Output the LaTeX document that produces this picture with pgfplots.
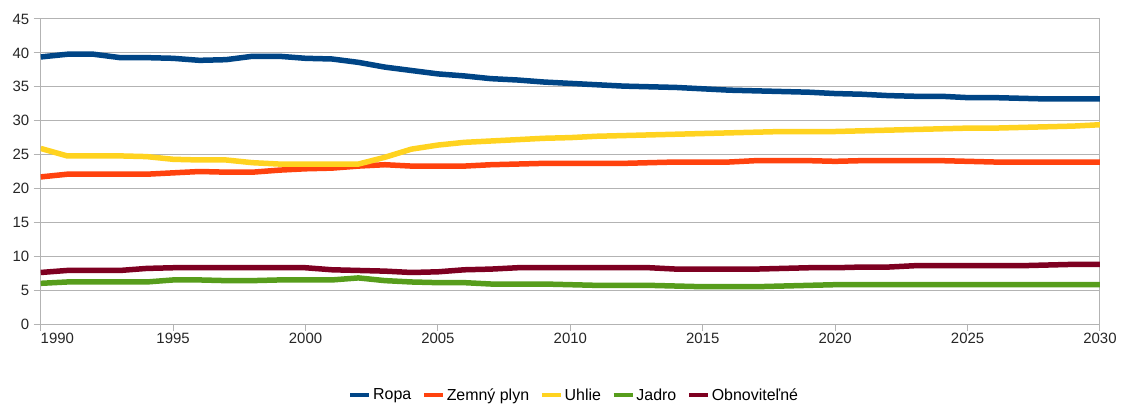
\documentclass[border=0pt]{standalone}
\usepackage{fontspec}
\setmainfont{Liberation Sans}
\usepackage{pgfplots}
\usepackage{pgfplotstable}
\pgfplotsset{compat=1.18}
\definecolor{cRopa}{HTML}{004586}
\definecolor{cPlyn}{HTML}{FF420E}
\definecolor{cUhlie}{HTML}{FFD320}
\definecolor{cJadro}{HTML}{579D1C}
\definecolor{cObn}{HTML}{7E0021}
\definecolor{gridgray}{HTML}{B3B3B3}
\pgfplotstableread{
year ropa plyn uhlie jadro obn
1990 39.4 21.7 25.9 6.0 7.6
1991 39.8 22.1 24.8 6.2 7.9
1992 39.8 22.1 24.8 6.2 7.9
1993 39.3 22.1 24.8 6.2 7.9
1994 39.3 22.1 24.7 6.2 8.2
1995 39.2 22.3 24.3 6.5 8.3
1996 38.9 22.5 24.2 6.5 8.3
1997 39.0 22.4 24.2 6.4 8.3
1998 39.5 22.4 23.8 6.4 8.3
1999 39.5 22.7 23.6 6.5 8.3
2000 39.2 22.9 23.6 6.5 8.3
2001 39.1 23.0 23.6 6.5 8.0
2002 38.6 23.3 23.6 6.8 7.9
2003 37.9 23.5 24.6 6.4 7.8
2004 37.4 23.3 25.8 6.2 7.6
2005 36.9 23.3 26.4 6.1 7.7
2006 36.6 23.3 26.8 6.1 8.0
2007 36.2 23.5 27.0 5.9 8.1
2008 36.0 23.6 27.2 5.9 8.3
2009 35.7 23.7 27.4 5.9 8.3
2010 35.5 23.7 27.5 5.8 8.3
2011 35.3 23.7 27.7 5.7 8.3
2012 35.1 23.7 27.8 5.7 8.3
2013 35.0 23.8 27.9 5.7 8.3
2014 34.9 23.9 28.0 5.6 8.1
2015 34.7 23.9 28.1 5.5 8.1
2016 34.5 23.9 28.2 5.5 8.1
2017 34.4 24.1 28.3 5.5 8.1
2018 34.3 24.1 28.4 5.6 8.2
2019 34.2 24.1 28.4 5.7 8.3
2020 34.0 24.0 28.4 5.8 8.3
2021 33.9 24.1 28.5 5.8 8.4
2022 33.7 24.1 28.6 5.8 8.4
2023 33.6 24.1 28.7 5.8 8.6
2024 33.6 24.1 28.8 5.8 8.6
2025 33.4 24.0 28.9 5.8 8.6
2026 33.4 23.9 28.9 5.8 8.6
2027 33.3 23.9 29.0 5.8 8.6
2028 33.2 23.9 29.1 5.8 8.7
2029 33.2 23.9 29.2 5.8 8.8
2030 33.2 23.9 29.4 5.8 8.8
}\datatable
\begin{document}
\begin{tikzpicture}
\begin{axis}[
  scale only axis,
  width=1059.3bp, height=305bp,
  xmin=1990, xmax=2030, ymin=0, ymax=45,
  xtick={1990,1995,2000,2005,2010,2015,2020,2025,2030},
  xticklabels={\makebox[0pt][l]{1990},1995,2000,2005,2010,2015,2020,2025,2030},
  ytick={0,5,...,45},
  ymajorgrids,
  grid style={gridgray, line width=1bp},
  axis line style={gridgray, line width=1bp},
  tick style={gridgray, line width=1bp},
  major tick length=7bp,
  tick align=outside,
  xtick pos=bottom, ytick pos=left,
  /pgf/number format/assume math mode=true,
  /pgf/number format/1000 sep={},
  ticklabel style={font=\fontsize{15}{17}\selectfont, text=black!85},
  yticklabel style={xshift=-1bp},
  xticklabel style={yshift=1.5bp},
  legend style={at={(0.5033,-0.233)}, anchor=center, draw=none, fill=none,
    font=\fontsize{16}{18}\selectfont, legend columns=5,
    nodes={inner sep=1.5bp},
    /tikz/every even column/.append style={column sep=9bp},
    inner sep=0pt},
  legend image code/.code={\draw[line width=4.5bp] (0bp,0bp) -- (19bp,0bp);},
  every axis plot/.append style={line width=5.5bp, line join=round},
]
\addplot[cRopa] table[x=year,y=ropa] {\datatable};
\addlegendentry{Ropa}
\addplot[cPlyn] table[x=year,y=plyn] {\datatable};
\addlegendentry{Zemný plyn}
\addplot[cUhlie] table[x=year,y=uhlie] {\datatable};
\addlegendentry{Uhlie}
\addplot[cJadro] table[x=year,y=jadro] {\datatable};
\addlegendentry{Jadro}
\addplot[cObn] table[x=year,y=obn] {\datatable};
\addlegendentry{Obnoviteľné}
\end{axis}
\pgfresetboundingbox
\useasboundingbox (current axis.south west) ++(-40.7bp,-81bp) rectangle ++(1125bp,405bp);
\end{tikzpicture}
\end{document}
